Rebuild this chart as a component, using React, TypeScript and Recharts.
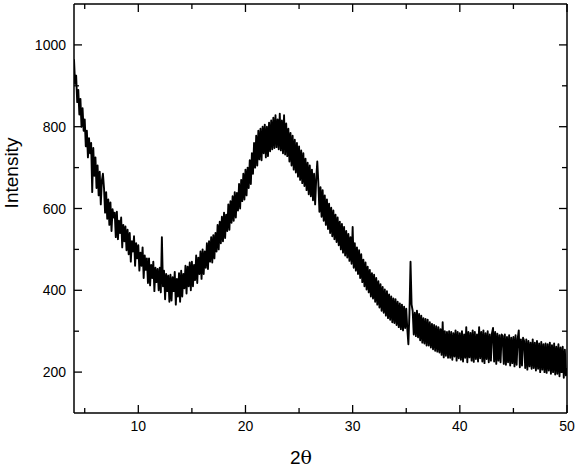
import { LineChart, Line, XAxis, YAxis } from 'recharts'

// scan grid of the diffractometer (degrees 2θ)
const startAngle = 4
const stepAngle = 0.1

const intensity: number[] = [
  965, 905, 925, 860, 890, 830, 868, 800, 845, 790,
  818, 752, 790, 725, 772, 735, 760, 640, 748, 680,
  725, 650, 705, 632, 690, 610, 668, 685, 650, 590,
  640, 575, 622, 560, 615, 545, 598, 578, 590, 530,
  592, 525, 570, 540, 578, 505, 560, 520, 556, 498,
  548, 488, 540, 470, 520, 495, 532, 460, 515, 478,
  510, 448, 492, 460, 505, 430, 485, 450, 478, 418,
  478, 412, 462, 430, 470, 398, 455, 420, 452, 400,
  455, 395, 530, 410, 448, 378, 440, 398, 436, 372,
  438, 375, 432, 398, 445, 365, 428, 385, 442, 372,
  448, 385, 440, 405, 460, 392, 458, 410, 468, 400,
  470, 410, 462, 425, 485, 418, 480, 440, 495, 428,
  500, 440, 495, 455, 515, 452, 520, 470, 530, 468,
  535, 478, 540, 495, 560, 500, 568, 515, 580, 520,
  590, 528, 585, 545, 610, 548, 618, 565, 630, 570,
  640, 578, 638, 595, 660, 600, 670, 618, 685, 622,
  695, 632, 700, 650, 718, 660, 735, 685, 760, 700,
  778, 705, 790, 720, 795, 718, 800, 735, 805, 725,
  800, 728, 810, 740, 815, 745, 822, 748, 828, 750,
  818, 745, 832, 742, 815, 735, 828, 732, 808, 728,
  795, 715, 785, 705, 778, 695, 768, 688, 760, 678,
  752, 670, 742, 662, 735, 655, 722, 645, 712, 635,
  705, 630, 695, 620, 685, 610, 672, 715, 662, 592,
  652, 580, 645, 570, 632, 560, 622, 550, 612, 540,
  602, 532, 595, 525, 585, 518, 578, 510, 568, 500,
  562, 492, 555, 485, 545, 480, 538, 472, 530, 465,
  555, 455, 515, 448, 505, 440, 498, 430, 488, 420,
  475, 410, 468, 402, 458, 395, 450, 385, 442, 380,
  438, 372, 430, 365, 422, 358, 415, 350, 408, 345,
  402, 338, 398, 332, 390, 328, 385, 322, 380, 320,
  378, 315, 372, 310, 368, 305, 365, 302, 360, 308,
  355, 305, 268, 345, 470, 365, 350, 292, 345, 288,
  350, 285, 342, 278, 338, 272, 332, 270, 330, 265,
  328, 265, 322, 260, 318, 256, 315, 252, 312, 250,
  310, 248, 305, 242, 322, 236, 300, 240, 298, 235,
  300, 235, 298, 230, 295, 238, 302, 228, 298, 234,
  295, 230, 300, 226, 292, 235, 310, 224, 298, 236,
  296, 228, 302, 225, 298, 232, 292, 226, 310, 234,
  298, 226, 302, 222, 295, 232, 300, 224, 292, 228,
  295, 308, 226, 298, 220, 294, 228, 290, 224, 292,
  288, 220, 292, 218, 286, 224, 290, 216, 284, 222,
  286, 214, 290, 218, 282, 302, 212, 280, 216, 284,
  276, 210, 280, 206, 276, 214, 272, 208, 280, 210,
  272, 204, 276, 208, 270, 200, 274, 206, 268, 200,
  270, 198, 268, 204, 272, 196, 266, 200, 270, 194,
  262, 196, 268, 190, 260, 200, 262, 186, 255, 192,
  210,
]

const xTicks = [5, 10, 15, 20, 25, 30, 35, 40, 45, 50]
const yTicks = [200, 300, 400, 500, 600, 700, 800, 900, 1000]

const data = intensity.map((v, i) => ({
  angle: Math.round((startAngle + i * stepAngle) * 10) / 10,
  intensity: v,
}))

const FONT = 'Arial, "Liberation Sans", Helvetica, sans-serif'

function BottomTick({ x, y, payload }: any) {
  const major = payload.value % 10 === 0
  return (
    <g>
      <line x1={x} x2={x} y1={y} y2={y - (major ? 8 : 5)} stroke="#000" strokeWidth={1.3} />
      {major && (
        <text x={x} y={y + 18} textAnchor="middle" fontSize={14} fontFamily={FONT} fill="#000">
          {payload.value}
        </text>
      )}
    </g>
  )
}

function TopTick({ x, y, payload }: any) {
  const major = payload.value % 10 === 0
  return <line x1={x} x2={x} y1={y} y2={y + (major ? 8 : 5)} stroke="#000" strokeWidth={1.3} />
}

function LeftTick({ x, y, payload }: any) {
  const major = payload.value % 200 === 0
  return (
    <g>
      <line x1={x} x2={x + (major ? 8 : 5)} y1={y} y2={y} stroke="#000" strokeWidth={1.3} />
      {major && (
        <text x={x - 8} y={y} textAnchor="end" dominantBaseline="central" fontSize={14} fontFamily={FONT} fill="#000">
          {payload.value}
        </text>
      )}
    </g>
  )
}

function RightTick({ x, y, payload }: any) {
  const major = payload.value % 200 === 0
  return <line x1={x} x2={x - (major ? 8 : 5)} y1={y} y2={y} stroke="#000" strokeWidth={1.3} />
}

export default function App() {
  return (
    <div style={{ position: 'absolute', left: 0, top: 0, width: 580, height: 469, background: '#fff' }}>
      <LineChart width={580} height={469} data={data} margin={{ top: 3, right: 12, left: 0, bottom: 0 }}>
        <XAxis
          xAxisId="bottom"
          dataKey="angle"
          type="number"
          domain={[4, 50]}
          ticks={xTicks}
          height={56}
          tickSize={0}
          tickMargin={0}
          tick={<BottomTick />}
          axisLine={{ stroke: '#000', strokeWidth: 1.5 }}
          allowDataOverflow
        />
        <XAxis
          xAxisId="top"
          orientation="top"
          dataKey="angle"
          type="number"
          domain={[4, 50]}
          ticks={xTicks}
          height={1}
          tickSize={0}
          tickMargin={0}
          tick={<TopTick />}
          axisLine={{ stroke: '#000', strokeWidth: 1.5 }}
          allowDataOverflow
        />
        <YAxis
          yAxisId="left"
          type="number"
          domain={[100, 1100]}
          ticks={yTicks}
          width={74}
          tickSize={0}
          tickMargin={0}
          tick={<LeftTick />}
          axisLine={{ stroke: '#000', strokeWidth: 1.5 }}
          allowDataOverflow
        />
        <YAxis
          yAxisId="right"
          orientation="right"
          type="number"
          domain={[100, 1100]}
          ticks={yTicks}
          width={1}
          tickSize={0}
          tickMargin={0}
          tick={<RightTick />}
          axisLine={{ stroke: '#000', strokeWidth: 1.5 }}
          allowDataOverflow
        />
        <Line
          xAxisId="bottom"
          yAxisId="left"
          dataKey="intensity"
          stroke="#000"
          strokeWidth={1.9}
          strokeLinejoin="round"
          dot={false}
          isAnimationActive={false}
        />
      </LineChart>
      <div
        style={{
          position: 'absolute',
          left: 12,
          top: 173,
          transform: 'translate(-50%, -50%) rotate(-90deg)',
          fontFamily: FONT,
          fontSize: 19,
          whiteSpace: 'nowrap',
        }}
      >
        Intensity
      </div>
      <div
        style={{
          position: 'absolute',
          left: 301,
          top: 457,
          transform: 'translate(-50%, -50%)',
          fontSize: 19,
          whiteSpace: 'nowrap',
        }}
      >
        <span style={{ fontFamily: FONT }}>2</span>
        <span style={{ fontFamily: '"DejaVu Serif", "Liberation Serif", serif' }}>θ</span>
      </div>
    </div>
  )
}
